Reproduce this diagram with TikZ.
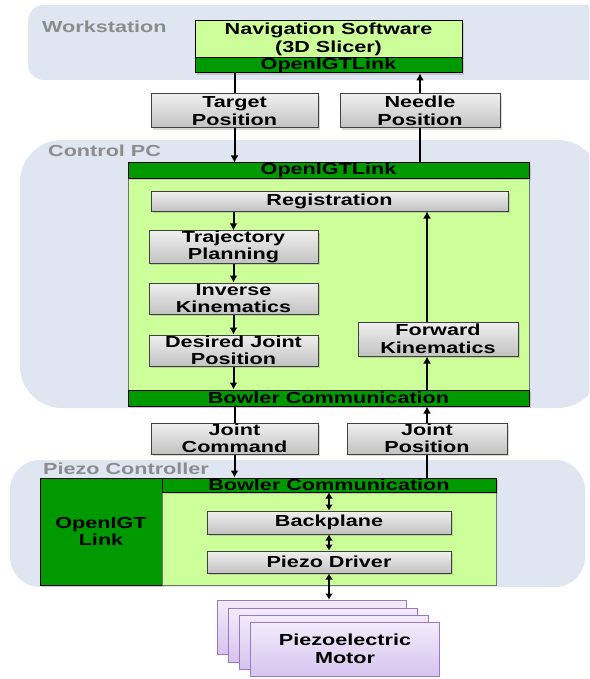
\documentclass[tikz,border=0pt]{standalone}
\usepackage{fontspec}
\setmainfont{Liberation Sans}[FakeStretch=1.35]
\usepackage{tikz}
\usetikzlibrary{positioning, arrows.meta, shadows}
\definecolor{sfondo}{HTML}{DFE6F2}
\definecolor{grigiotesto}{HTML}{8C8C8C}
\definecolor{verdechiaro}{HTML}{CCFF99}
\definecolor{verdescuro}{HTML}{009900}
\definecolor{viola}{HTML}{9B77C9}
\definecolor{violachiaro}{HTML}{F3ECFB}
\definecolor{violascuro}{HTML}{D6C3EE}
\tikzset{
  gruppo/.style={fill=sfondo},
  etichetta/.style={
    anchor=west, text=grigiotesto, inner sep=0pt,
    font=\fontsize{16}{18}\selectfont\bfseries
  },
  % Moduli software (grigi)
  modulo/.style={
    rectangle, draw=black!75, line width=1pt,
    top color=white!94!black, bottom color=black!24,
    font=\fontsize{16}{17.5}\selectfont\bfseries,
    align=center, inner sep=0pt,
    drop shadow={shadow xshift=2pt, shadow yshift=-2pt, opacity=0.3}
  },
  contenitore/.style={rectangle, draw=black!55, line width=0.6pt, fill=verdechiaro, inner sep=0pt},
  banda/.style={
    rectangle, draw=black, line width=1pt, fill=verdescuro,
    font=\fontsize{16}{17.5}\selectfont\bfseries, inner sep=0pt,
    drop shadow={shadow xshift=2pt, shadow yshift=-2pt, opacity=0.3}
  },
  motore/.style={
    rectangle, draw=viola, line width=1pt,
    top color=violachiaro, bottom color=violascuro,
    minimum width=189pt, minimum height=54pt,
    font=\fontsize{16}{17.5}\selectfont\bfseries, align=center
  },
  % Collegamenti
  linea/.style={line width=2pt},
  flusso/.style={-{Latex[length=7pt,width=8pt]}, line width=2pt},
  bidir/.style={{Latex[length=6pt,width=8pt]}-{Latex[length=6pt,width=8pt]}, line width=2pt}
}

\begin{document}
\begin{tikzpicture}[x=1pt, y=-1pt]
\useasboundingbox (0,0) rectangle (589,679);

% Sfondi dei gruppi
\begin{scope}
\clip (0,0) rectangle (589,679);
\fill[gruppo, rounded corners=16pt] (28,5) rectangle (620,80);
\fill[gruppo, rounded corners=42pt] (20,140) rectangle (600,408);
\fill[gruppo, rounded corners=30pt] (10,460) rectangle (585,587);
\end{scope}
\node[etichetta] (wslabel) at (42,27) {Workstation};
\node[etichetta] (cpclabel) at (48,151) {Control PC};
\node[etichetta] (pclabel) at (43,469) {Piezo Controller};

% Livello superiore - Workstation
\node[rectangle, draw=black, line width=1pt, fill=verdechiaro, align=center, inner sep=0pt,
  minimum width=267pt, minimum height=37pt, font=\fontsize{16}{17.5}\selectfont\bfseries,
  drop shadow={shadow xshift=2pt, shadow yshift=-2pt, opacity=0.3}]
  (nav) at (328.5,39.5) {Navigation Software\\(3D Slicer)};
\node[banda, minimum width=267pt, minimum height=15pt] (navlink) at (328.5,65.5) {OpenIGTLink};

\node[modulo, minimum width=167pt, minimum height=34pt] (target) at (234.5,111) {Target\\Position};
\node[modulo, minimum width=160pt, minimum height=34pt] (needle) at (420,111) {Needle\\Position};

% Livello secondo - Control PC
\node[contenitore, minimum width=401pt, minimum height=243pt] (cpc) at (328.5,284.5) {};
\node[banda, minimum width=401pt, minimum height=15pt] (cpclink) at (328.5,170.5) {OpenIGTLink};
\node[banda, minimum width=401pt, minimum height=16pt] (cpcbowler) at (328.5,398) {Bowler Communication};

\node[modulo, minimum width=357pt, minimum height=20pt] (reg) at (329.5,201) {Registration};
\node[modulo, minimum width=169pt, minimum height=32pt] (traj) at (233.5,247) {Trajectory\\Planning};
\node[modulo, minimum width=169pt, minimum height=31pt] (ik) at (233.5,298.5) {Inverse\\Kinematics};
\node[modulo, minimum width=169pt, minimum height=31pt] (djp) at (233.5,350.5) {Desired Joint\\Position};
\node[modulo, minimum width=160pt, minimum height=34pt] (fk) at (438,339) {Forward\\Kinematics};

\node[modulo, minimum width=167pt, minimum height=31pt] (jcmd) at (234.5,438.5) {Joint\\Command};
\node[modulo, minimum width=160pt, minimum height=31pt] (jpos) at (427,438.5) {Joint\\Position};

% Livello terzo - Piezo Controller
\node[rectangle, draw=black, line width=1pt, fill=verdescuro, align=center, inner sep=0pt,
  minimum width=122pt, minimum height=107pt, font=\fontsize{16}{17.5}\selectfont\bfseries,
  drop shadow={shadow xshift=2pt, shadow yshift=-2pt, opacity=0.3}]
  (igt) at (101,531.5) {OpenIGT\\Link};
\node[contenitore, minimum width=334pt, minimum height=107pt] (pz) at (329,531.5) {};
\node[banda, minimum width=334pt, minimum height=14pt] (pzbowler) at (329,485) {Bowler Communication};
\node[modulo, minimum width=244pt, minimum height=23pt] (bp) at (329,522.5) {Backplane};
\node[modulo, minimum width=244pt, minimum height=22pt] (pd) at (329,562) {Piezo Driver};

% Motori piezoelettrici (pila)
\node[motore] (m1) at (312,627) {};
\node[motore] (m2) at (323,635) {};
\node[motore] (m3) at (334,642) {};
\node[motore] (m4) at (345,649) {Piezoelectric\\Motor};

% Collegamenti
\draw[linea] (navlink.south -| target) -- (target.north);
\draw[flusso] (target.south) -- (cpclink.north -| target);
\draw[linea] (cpclink.north -| needle) -- (needle.south);
\draw[flusso] (needle.north) -- (navlink.south -| needle);

\draw[flusso] (reg.south -| traj) -- (traj.north);
\draw[flusso] (traj.south) -- (ik.north);
\draw[flusso] (ik.south) -- (djp.north);
\draw[flusso] (djp.south) -- (cpcbowler.north -| djp);
\draw[flusso] (cpcbowler.north -| jpos) -- (fk.south -| jpos);
\draw[flusso] (fk.north -| jpos) -- (reg.south -| jpos);

\draw[linea] (cpcbowler.south -| jcmd) -- (jcmd.north);
\draw[flusso] (jcmd.south) -- (pzbowler.north -| jcmd);
\draw[linea] (pzbowler.north -| jpos) -- (jpos.south);
\draw[flusso] (jpos.north) -- (cpcbowler.south -| jpos);

\draw[bidir] (pzbowler.south -| bp) -- (bp.north);
\draw[bidir] (bp.south) -- (pd.north);
\draw[bidir] (pd.south) -- (m1.north -| pd);

\end{tikzpicture}
\end{document}
